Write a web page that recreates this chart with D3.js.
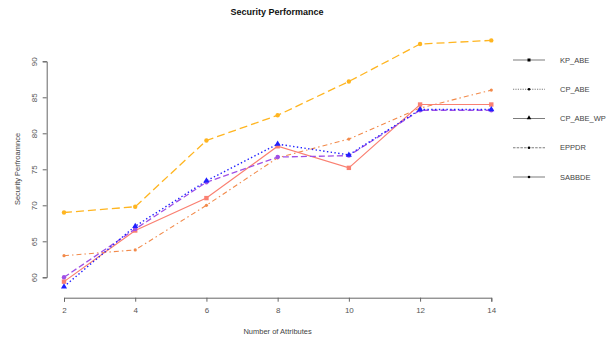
<!DOCTYPE html>
<html><head><meta charset="utf-8">
<script src="https://cdn.jsdelivr.net/npm/d3@7"></script>
<style>body{margin:0;background:#fff}svg{display:block}</style>
</head><body>
<svg id="c" width="612" height="342"></svg>
<script>
const attributes = [2, 4, 6, 8, 10, 12, 14];
const kpAbe   = [59.4, 66.5, 71.0, 78.2, 75.2, 84.0, 84.0];
const cpAbeWp = [58.7, 67.1, 73.4, 78.5, 77.0, 83.3, 83.3];
const eppdr   = [60.0, 66.7, 73.2, 76.7, 76.9, 83.2, 83.2];
const cpAbe   = [63.0, 63.8, 70.0, 76.6, 79.2, 83.5, 86.0];
const sabbde  = [69.0, 69.8, 79.0, 82.5, 87.2, 92.4, 92.9];
const yTicks = [60, 65, 70, 75, 80, 85, 90];
const legendNames = ["KP_ABE", "CP_ABE", "CP_ABE_WP", "EPPDR", "SABBDE"];

const series = [
  {vals: sabbde,  color: "#FFB520", dash: "8,4", marker: "circle", w: 1.3},
  {vals: cpAbe,   color: "#F28A4A", dash: "5,3,1.5,3", marker: "dot", w: 1.1},
  {vals: kpAbe,   color: "#FA8072", dash: null, marker: "square", w: 1.2},
  {vals: eppdr,   color: "#A050E6", dash: "6,3", marker: "circle", w: 1.3},
  {vals: cpAbeWp, color: "#2020FF", dash: "1.4,2.4", marker: "triangle", w: 1.4}
];

const svg = d3.select("#c");
const x = d3.scaleLinear().domain([2, 14]).range([64, 491.3]);
const y = d3.scaleLinear().domain([60, 90]).range([277.3, 61.3]);
const font = "'Liberation Sans', Arial, sans-serif";

// axes
const xAxis = svg.append("g").attr("transform", "translate(0,297.7)")
  .call(d3.axisBottom(x).tickValues(attributes).tickSize(4).tickPadding(6));
const yAxis = svg.append("g").attr("transform", "translate(46.7,0)")
  .call(d3.axisLeft(y).tickValues(yTicks).tickSize(4).tickPadding(6));
[xAxis, yAxis].forEach(a => {
  a.select(".domain").attr("stroke", "#666");
  a.selectAll(".tick line").attr("stroke", "#666");
  a.selectAll("text").attr("font-family", font).attr("font-size", 8).attr("fill", "#555");
});
yAxis.selectAll(".tick text")
  .attr("text-anchor", "middle")
  .attr("transform", "translate(-12,0) rotate(-90)")
  .attr("x", 0).attr("y", 0).attr("dy", "0.32em");

// titles
svg.append("text").attr("x", 277).attr("y", 15).attr("text-anchor", "middle")
  .attr("font-family", font).attr("font-size", 9).attr("font-weight", "bold").attr("fill", "#111")
  .text("Security Performance");
svg.append("text").attr("x", 277.6).attr("y", 334).attr("text-anchor", "middle")
  .attr("font-family", font).attr("font-size", 7.5).attr("fill", "#444")
  .text("Number of Attributes");
svg.append("text").attr("transform", "translate(20,169) rotate(-90)").attr("text-anchor", "middle")
  .attr("font-family", font).attr("font-size", 7.5).attr("fill", "#444")
  .text("Security Perfroamnce");

// lines
const line = d3.line().x((d, i) => x(attributes[i])).y(d => y(d));
function drawMarker(g, type, cx, cy, color, size) {
  if (type === "square") g.append("rect").attr("x", cx - 2.2).attr("y", cy - 2.2).attr("width", 4.4).attr("height", 4.4).attr("fill", color);
  else if (type === "triangle") g.append("path").attr("d", d3.symbol(d3.symbolTriangle, size || 16)()).attr("transform", `translate(${cx},${cy})`).attr("fill", color);
  else if (type === "circle") g.append("circle").attr("cx", cx).attr("cy", cy).attr("r", size || 2.2).attr("fill", color);
  else g.append("circle").attr("cx", cx).attr("cy", cy).attr("r", size || 1.6).attr("fill", color);
}
series.forEach(s => {
  svg.append("path").datum(s.vals).attr("d", line).attr("fill", "none")
    .attr("stroke", s.color).attr("stroke-width", s.w).attr("stroke-dasharray", s.dash);
  const g = svg.append("g");
  s.vals.forEach((v, i) => drawMarker(g, s.marker, x(attributes[i]), y(v), s.color));
});

// legend
const legStyles = [
  {dash: null, marker: "square"},
  {dash: "1.2,1.2", marker: "dot"},
  {dash: null, marker: "triangle"},
  {dash: "2.5,1.2", marker: "dot"},
  {dash: null, marker: "dot"}
];
const legY = d3.scalePoint().domain(legendNames).range([60, 177]);
legendNames.forEach((n, i) => {
  const ly = legY(n);
  svg.append("line").attr("x1", 513).attr("x2", 545).attr("y1", ly).attr("y2", ly)
    .attr("stroke", "#444").attr("stroke-width", 0.7).attr("stroke-dasharray", legStyles[i].dash);
  const g = svg.append("g");
  const st = legStyles[i];
  if (st.marker === "square") g.append("rect").attr("x", 527.5).attr("y", ly - 1.5).attr("width", 3).attr("height", 3).attr("fill", "#000");
  else if (st.marker === "triangle") drawMarker(g, "triangle", 529, ly - 0.5, "#000", 9);
  else drawMarker(g, "dot", 529, ly, "#000", 1.3);
  svg.append("text").attr("x", 560).attr("y", ly).attr("dy", "0.35em")
    .attr("font-family", font).attr("font-size", 7.5).attr("fill", "#444").text(n);
});
</script>
</body></html>
